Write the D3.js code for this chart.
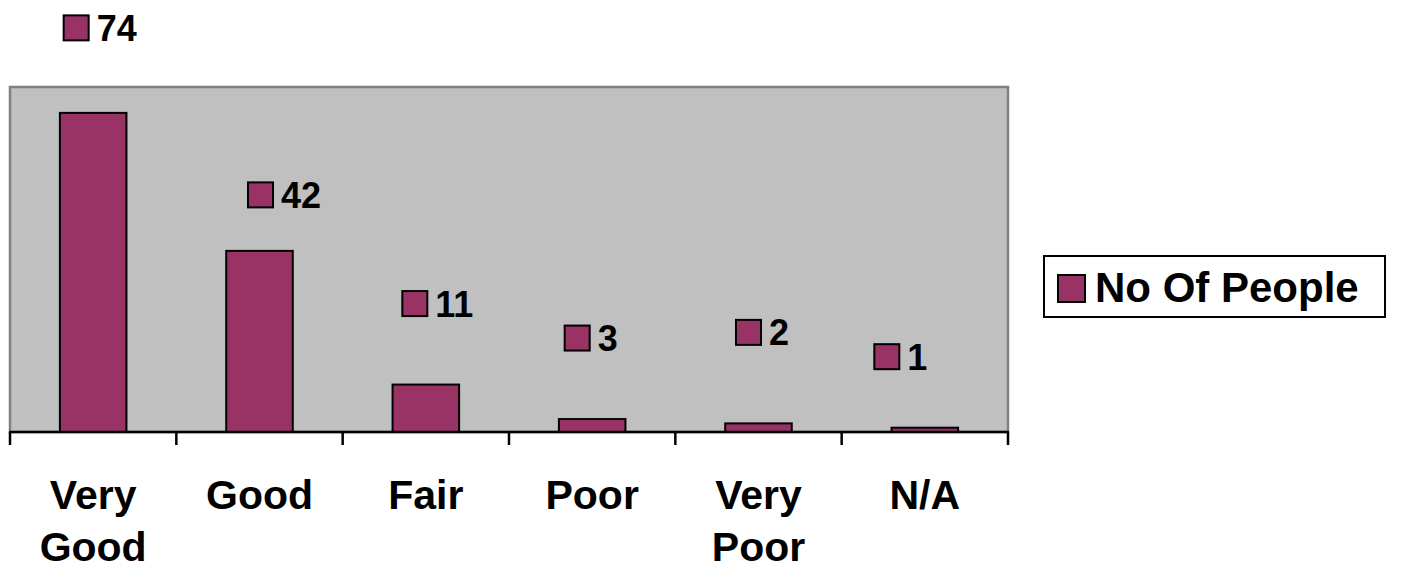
<!DOCTYPE html>
<html>
<head>
<meta charset="utf-8">
<script src="https://cdn.jsdelivr.net/npm/d3@7/dist/d3.min.js"></script>
<style>
  html, body { margin: 0; padding: 0; background: #ffffff; }
  svg { display: block; font-family: "Liberation Sans", Arial, sans-serif; }
</style>
</head>
<body>
<script>
// Survey answers and counts
const categories = ["Very Good", "Good", "Fair", "Poor", "Very Poor", "N/A"];
const counts = [74, 42, 11, 3, 2, 1];
const seriesName = "No Of People";

// Where each value label sits relative to its bar (centre x, top y), in px
const labelShift = [
  [-17, -85], [1, -56], [-11, -81], [-15, -81], [-10, -91], [-38, -71]
];

const W = 1405, H = 569;
const plot = { left: 10, right: 1008, top: 87, bottom: 432 };
const barColor = "#993366";

const svg = d3.select("body").append("svg")
  .attr("width", W).attr("height", H);

const x = d3.scaleBand()
  .domain(categories)
  .range([plot.left, plot.right])
  .paddingInner(0.6).paddingOuter(0.3);

const y = d3.scaleLinear()
  .domain([0, 80])
  .range([plot.bottom, plot.top]);

// Plot background
svg.append("rect")
  .attr("x", plot.left).attr("y", plot.top)
  .attr("width", plot.right - plot.left).attr("height", plot.bottom - plot.top)
  .attr("fill", "#c0c0c0")
  .attr("stroke", "#808080").attr("stroke-width", 2.5);

// Bars
svg.append("g").selectAll("rect")
  .data(counts)
  .join("rect")
  .attr("x", (d, i) => x(categories[i]))
  .attr("y", d => y(d))
  .attr("width", x.bandwidth())
  .attr("height", d => y(0) - y(d))
  .attr("fill", barColor)
  .attr("stroke", "#000").attr("stroke-width", 2);

// Category axis: ticks on band boundaries
const bandEdges = d3.range(categories.length + 1)
  .map(i => plot.left + i * (plot.right - plot.left) / categories.length);
const axisG = svg.append("g");
axisG.append("line")
  .attr("x1", plot.left - 1).attr("x2", plot.right + 1)
  .attr("y1", plot.bottom).attr("y2", plot.bottom)
  .attr("stroke", "#000").attr("stroke-width", 2.5);
axisG.selectAll("line.tick")
  .data(bandEdges)
  .join("line").attr("class", "tick")
  .attr("x1", d => d).attr("x2", d => d)
  .attr("y1", plot.bottom).attr("y2", plot.bottom + 13)
  .attr("stroke", "#000").attr("stroke-width", 2.5);

// Category labels, wrapped onto two lines where needed
const wrapped = {
  "Very Good": ["Very", "Good"],
  "Very Poor": ["Very", "Poor"]
};
axisG.selectAll("text.cat")
  .data(categories)
  .join("text").attr("class", "cat")
  .attr("x", d => x(d) + x.bandwidth() / 2)
  .attr("y", 509)
  .attr("text-anchor", "middle")
  .attr("font-size", 41).attr("font-weight", "bold")
  .attr("fill", "#000")
  .each(function (d) {
    const lines = wrapped[d] || [d];
    d3.select(this).selectAll("tspan")
      .data(lines)
      .join("tspan")
      .attr("x", x(d) + x.bandwidth() / 2)
      .attr("dy", (l, j) => j === 0 ? 0 : 52)
      .text(l => l);
  });

// Value labels with legend key squares
const key = 25;
const labels = svg.append("g").selectAll("g")
  .data(counts)
  .join("g")
  .attr("transform", (d, i) => {
    const cx = x(categories[i]) + x.bandwidth() / 2 + labelShift[i][0];
    const cy = y(d) + labelShift[i][1];
    return `translate(${cx},${cy})`;
  });
labels.append("rect")
  .attr("x", -key / 2).attr("y", -key / 2)
  .attr("width", key).attr("height", key)
  .attr("fill", barColor)
  .attr("stroke", "#000").attr("stroke-width", 2);
labels.append("text")
  .attr("x", key / 2 + 8)
  .attr("y", 13)
  .attr("font-size", 36).attr("font-weight", "bold")
  .attr("fill", "#000")
  .text(d => d);

// Legend
const legend = svg.append("g");
legend.append("rect")
  .attr("x", 1044).attr("y", 256)
  .attr("width", 341).attr("height", 61)
  .attr("fill", "#fff")
  .attr("stroke", "#000").attr("stroke-width", 2);
legend.append("rect")
  .attr("x", 1058).attr("y", 275)
  .attr("width", 27).attr("height", 27)
  .attr("fill", barColor)
  .attr("stroke", "#000").attr("stroke-width", 2);
legend.append("text")
  .attr("x", 1095).attr("y", 302)
  .attr("font-size", 42).attr("font-weight", "bold")
  .attr("fill", "#000")
  .text(seriesName);
</script>
</body>
</html>
